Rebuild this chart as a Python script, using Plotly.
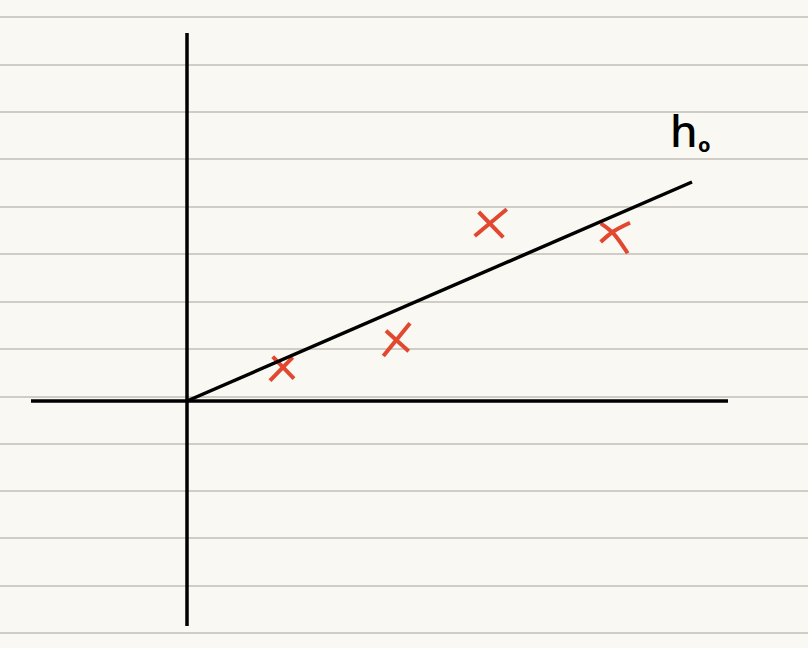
import plotly.graph_objects as go

# Values, in graph units (origin at the crossing of the axes)
x_axis_x = [-156, 541]
x_axis_y = [0, 0]
y_axis_x = [0, 0]
y_axis_y = [368, -225]
hypothesis_x = [0, 505]
hypothesis_y = [0, 219]

cross_strokes = [
    ([85.7, 107], [44.3, 22.3]),
    ([105.7, 83], [43.7, 20.3]),
    ([199, 221.7], [70.3, 49.7]),
    ([223, 196.3], [77.7, 45]),
    ([291.7, 316.3], [189, 163.7]),
    ([319.7, 287.7], [191.7, 165]),
    ([413.7, 426.3, 440.7], [177.7, 167.7, 147.7]),
    ([443, 426.3, 413.7], [178.3, 169.5, 159]),
]

ruled_lines = [384, 336, 289, 242, 194, 147, 99, 52, 4, -43, -90, -137, -185, -232]
label_h = "h"
label_h_x = 497
label_h_y = 271
label_sub = "o"
label_sub_x = 517.5
label_sub_y = 257

fig = go.Figure()
fig.add_trace(go.Scatter(x=x_axis_x, y=x_axis_y, mode="lines",
                         line=dict(color="#000000", width=3.5), hoverinfo="skip"))
fig.add_trace(go.Scatter(x=y_axis_x, y=y_axis_y, mode="lines",
                         line=dict(color="#000000", width=3.5), hoverinfo="skip"))
for sx, sy in cross_strokes:
    fig.add_trace(go.Scatter(x=sx, y=sy, mode="lines",
                             line=dict(color="#e2472f", width=4, shape="spline"),
                             hoverinfo="skip"))
fig.add_trace(go.Scatter(x=hypothesis_x, y=hypothesis_y, mode="lines",
                         line=dict(color="#000000", width=3.5), hoverinfo="skip"))

fig.add_annotation(x=label_h_x, y=label_h_y, text=label_h, showarrow=False,
                   xanchor="center", yanchor="middle",
                   font=dict(family="Noto Sans", size=44, color="#000000", weight=500))
fig.add_annotation(x=label_sub_x, y=label_sub_y, text=label_sub, showarrow=False,
                   xanchor="center", yanchor="middle",
                   font=dict(family="Noto Sans", size=20, color="#000000", weight=700))

fig.update_layout(
    width=808, height=648, autosize=False,
    margin=dict(l=0, r=0, t=0, b=0),
    paper_bgcolor="#f9f8f3", plot_bgcolor="#f9f8f3",
    showlegend=False,
    xaxis=dict(range=[-187, 621], visible=False, fixedrange=True),
    yaxis=dict(range=[-247, 401], fixedrange=True, tickvals=ruled_lines,
               showticklabels=False, ticks="", showgrid=True,
               gridcolor="#cfcdc5", gridwidth=1.5, zeroline=False, showline=False),
)
fig.write_html("out.html", config={"displayModeBar": False},
               post_script="document.body.style.margin='0';document.body.style.background='#f9f8f3';document.body.style.overflow='hidden';")
